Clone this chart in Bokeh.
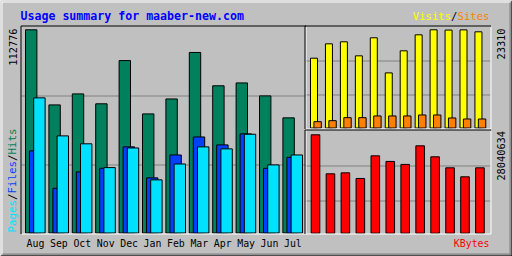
import numpy as np
from bokeh.plotting import figure
from bokeh.models import Range1d
from bokeh.embed import file_html
from bokeh.resources import INLINE
from bokeh.core.properties import value

# ---- data ----
months = ["Aug", "Sep", "Oct", "Nov", "Dec", "Jan", "Feb", "Mar", "Apr", "May", "Jun", "Jul"]
hits = [112776, 71100, 77200, 71700, 95700, 66100, 74400, 100200, 81700, 83300, 76100, 63900]
files = [45600, 24800, 33900, 35900, 47800, 30600, 43300, 53300, 48900, 55000, 35900, 42000]
pages = [75000, 53900, 49500, 36300, 47200, 29500, 38300, 47800, 46700, 54800, 37800, 43300]
visits = [16570, 19980, 20460, 17130, 21410, 13080, 18320, 22120, 23310, 23250, 23290, 22830]
sites = [1500, 1740, 2450, 2450, 2860, 2860, 2860, 3090, 3090, 2380, 2140, 2140]
kbytes = [28040634, 16920000, 17200000, 15600000, 22050000, 20450000, 19600000,
          24900000, 21770000, 18630000, 16070000, 18630000]

title_text = "Usage summary for maaber-new.com"

# ---- colours ----
BG = "#C0C0C0"
GRID = "#808080"
C_HITS = "#00805C"
C_FILES = "#0040FF"
C_PAGES = "#00E0FF"
C_VISITS = "#FFFF00"
C_SITES = "#FF8000"
C_KB = "#FF0000"
C_TITLE = "#0000FF"
MONO = value("DejaVu Sans Mono")

W, H = 512, 256
p = figure(width=W, height=H, x_range=Range1d(0, W), y_range=Range1d(H, 0),
           output_backend="svg", toolbar_location=None, min_border=0,
           x_axis_location=None, y_axis_location=None,
           background_fill_color=BG, border_fill_color=BG)
p.outline_line_color = None
p.grid.visible = False


def yrange(base_px, top_px, vmax):
    k = vmax / (base_px - top_px)
    return Range1d(start=(base_px - H) * k, end=base_px * k)


def xrange(x0, step):
    return Range1d(start=(0 - x0) / step, end=(W - x0) / step)


# panel geometry (pixels)
L_STEP = 23.4
R_STEP = 14.95
p.extra_x_ranges = {"left": xrange(25.0, L_STEP), "right": xrange(310.0, R_STEP)}
p.extra_y_ranges = {
    "hits": yrange(232.5, 29.3, max(hits)),
    "vis": yrange(127.5, 29.3, max(visits)),
    "kb": yrange(232.7, 134.3, max(kbytes)),
}

idx = np.arange(len(months))

# ---- outer bevel ----
p.segment(x0=[1, 1.5], y0=[1.5, 1], x1=[510, 1.5], y1=[1.5, 254], line_color="white", line_width=1)
p.segment(x0=[2, 2, 509.5, 510.5], y0=[253.5, 254.5, 2, 2], x1=[510, 511, 509.5, 510.5],
          y1=[253.5, 254.5, 254, 255], line_color=GRID, line_width=1)
p.segment(x0=[0, 511.5], y0=[255.5, 0], x1=[512, 511.5], y1=[255.5, 256], line_color="black", line_width=1)

# ---- gridlines (panel thirds) ----
p.segment(x0=[21, 21], x1=[305, 305], y0=[95.5, 164.5], y1=[95.5, 164.5], line_color=GRID)
p.segment(x0=[305, 305], x1=[490, 490], y0=[60.5, 94.5], y1=[60.5, 94.5], line_color=GRID)
p.segment(x0=[305, 305], x1=[490, 490], y0=[165.5, 200.5], y1=[165.5, 200.5], line_color=GRID)

# ---- left panel bars ----
bw = 11.4 / L_STEP
for vals, off, col in [(hits, 0.0, C_HITS), (files, 4.0, C_FILES), (pages, 8.2, C_PAGES)]:
    o = off / L_STEP
    p.quad(left=idx + o, right=idx + o + bw, bottom=0, top=vals, fill_color=col,
           line_color="black", line_width=1, x_range_name="left", y_range_name="hits")

# ---- right top bars ----
p.quad(left=idx, right=idx + 7.0 / R_STEP, bottom=0, top=visits, fill_color=C_VISITS,
       line_color="black", x_range_name="right", y_range_name="vis")
p.quad(left=idx + 3.4 / R_STEP, right=idx + 10.8 / R_STEP, bottom=0, top=sites, fill_color=C_SITES,
       line_color="black", x_range_name="right", y_range_name="vis")

# ---- right bottom bars ----
p.quad(left=idx + 0.7 / R_STEP, right=idx + 9.3 / R_STEP, bottom=0, top=kbytes, fill_color=C_KB,
       line_color="black", x_range_name="right", y_range_name="kb")

# ---- panel frames (black top/left, white bottom/right) ----
for (x0, y0, x1, y1) in [(20.5, 25.5, 305.5, 233.5), (304.5, 25.5, 490.5, 128.5), (304.5, 129.5, 490.5, 233.5)]:
    p.segment(x0=[x0, x0], y0=[y0, y0], x1=[x1, x0], y1=[y0, y1], line_color="black")
    p.segment(x0=[x0 + 1, x1], y0=[y1, y0 + 1], x1=[x1, x1], y1=[y1, y1], line_color="white")

# ---- texts ----
p.text(x=[20], y=[15], text=[title_text], text_font=MONO, text_font_size=value("11.6px"),
       text_font_style="bold", text_color=C_TITLE, text_baseline="middle", text_align="left")

p.text(x=idx + 10.0 / L_STEP, y=[243] * 12, text=months, text_font=MONO, text_font_size=value("9.9px"),
       text_color="black", text_baseline="middle", text_align="center", x_range_name="left")

# Visits / Sites (right aligned)
cw = 6.4
p.text(x=[489, 489 - 5 * cw, 489 - 6 * cw], y=[15, 15, 15], text=["Sites", "/", "Visits"],
       text_color=[C_SITES, "black", C_VISITS], text_font=MONO, text_font_size=value("10.6px"),
       text_baseline="middle", text_align="right")

p.text(x=[489], y=[243], text=["KBytes"], text_color=C_KB, text_font=MONO,
       text_font_size=value("9.9px"), text_baseline="middle", text_align="right")

# rotated labels
p.text(x=[12.5, 500, 500], y=[28, 28, 130.5],
       text=[str(max(hits)), str(max(visits)), str(max(kbytes))],
       angle=np.pi / 2, text_align="right", text_baseline="middle", text_color="black",
       text_font=MONO, text_font_size=value("10.3px"))

cw2 = 6.5
p.text(x=[12] * 5, y=[232, 232 - 5 * cw2, 232 - 6 * cw2, 232 - 11 * cw2, 232 - 12 * cw2],
       text=["Pages", "/", "Files", "/", "Hits"],
       text_color=[C_PAGES, "black", C_FILES, "black", C_HITS],
       angle=np.pi / 2, text_align="left", text_baseline="middle",
       text_font=MONO, text_font_size=value("10.8px"))

open("out.html", "w").write(file_html(p, INLINE))
